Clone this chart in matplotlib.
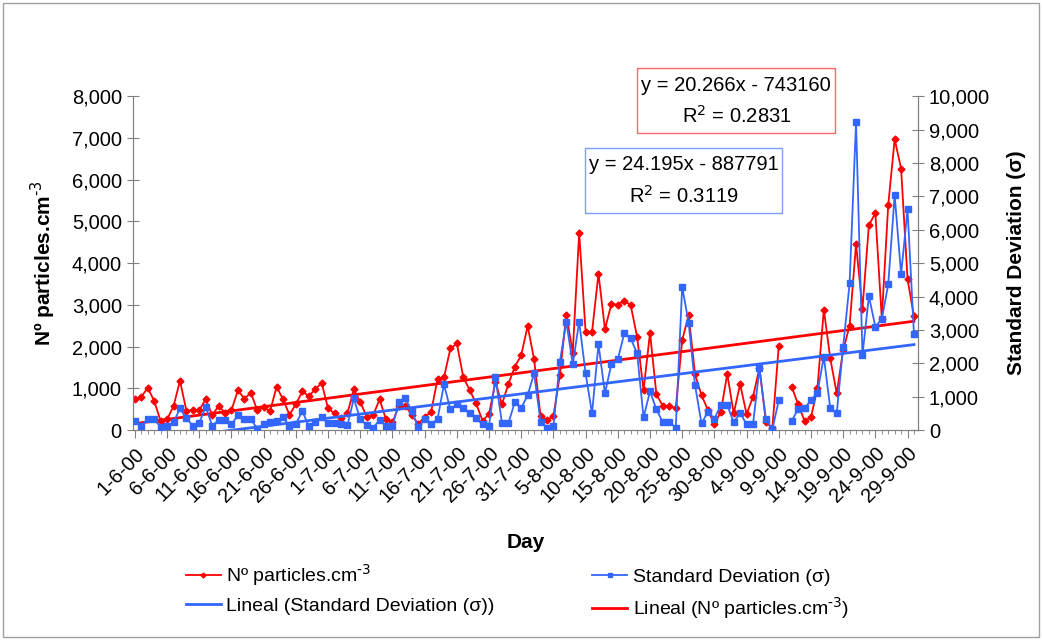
import numpy as np
import matplotlib
matplotlib.use("Agg")
import matplotlib.pyplot as plt
from matplotlib.ticker import FuncFormatter, MultipleLocator, FixedLocator
from matplotlib.patches import Rectangle

plt.rcParams['font.family'] = ['Liberation Sans', 'DejaVu Sans']

# daily values, 1-6-00 .. 30-9-00
particles = [734, 798, 1013, 694, 215, 255, 575, 1181, 463, 479,
             479, 742, 359, 575, 415, 479, 958, 750, 894, 479,
             543, 455, 1037, 742, 367, 622, 926, 814, 974, 1133,
             519, 399, 279, 399, 974, 678, 319, 359, 734, 255,
             184, 575, 575, 367, 144, 319, 431, 1229, 1261, 1955,
             2075, 1269, 958, 638, 223, 383, 1157, 614, 1101, 1516,
             1796, 2498, 1692, 335, 239, 335, 1317, 2769, 1859, 4724,
             2354, 2354, 3751, 2418, 3016, 3008, 3096, 2993, 2234, 958,
             2330, 854, 575, 575, 519, 2155, 2753, 1333, 838, 479,
             136, 439, 1349, 399, 1101, 383, 798, 1492, 200, 40,
             2019, np.nan, 1037, 622, 223, 303, 998, 2889, 1716, 878,
             1915, 2498, 4453, 2913, 4908, 5203, 2673, 5387, 6967, 6264,
             3615, 2729]
std_dev = [279, 130, 329, 329, 80, 130, 230, 649, 349, 130,
           220, 699, 130, 299, 299, 170, 449, 329, 329, 40,
           170, 230, 279, 379, 130, 180, 569, 120, 230, 379,
           200, 200, 170, 140, 948, 319, 150, 70, 299, 135,
           120, 838, 948, 579, 80, 319, 180, 329, 1367, 619,
           768, 669, 499, 349, 170, 130, 1577, 220, 200, 838,
           659, 1048, 1697, 250, 70, 130, 2046, 3244, 1976, 3244,
           1697, 499, 2575, 1098, 1976, 2116, 2894, 2745, 2295, 379,
           1160, 619, 230, 250, 70, 4291, 3214, 1337, 200, 549,
           339, 749, 749, 230, 519, 170, 180, 1846, 339, 20,
           888, np.nan, 279, 619, 649, 898, 1118, 2196, 649, 499,
           2495, 4391, 9212, 2246, 4012, 3094, 3323, 4361, 7036, 4671,
           6607, 2874]

date_labels = ['1-6-00', '6-6-00', '11-6-00', '16-6-00', '21-6-00', '26-6-00',
               '1-7-00', '6-7-00', '11-7-00', '16-7-00', '21-7-00', '26-7-00',
               '31-7-00', '5-8-00', '10-8-00', '15-8-00', '20-8-00', '25-8-00',
               '30-8-00', '4-9-00', '9-9-00', '14-9-00', '19-9-00', '24-9-00',
               '29-9-00']

# Excel trend lines (x = Excel date serial)
first_serial = 36678
fit_particles = (20.266, -743160)
fit_std = (24.195, -887791)

red = '#FF0000'
blue = '#3366FF'
grey = '#808080'
cm3 = 'Nº particles.cm$^{\\text{-3}}$'

days = np.arange(len(particles))
serial = first_serial + days

fig = plt.figure(figsize=(10.43, 6.41), dpi=100)
ax = fig.add_axes([0.1275, 0.329, 0.7525, 0.521])
ax2 = ax.twinx()

ax.plot(days, particles, color=red, lw=1.3, marker='D', ms=3.5,
        label=cm3, zorder=3)
ax2.plot(days, std_dev, color=blue, lw=1.3, marker='s', ms=4,
         label='Standard Deviation (σ)', zorder=3)
ax2.plot(days, fit_std[0] * serial + fit_std[1], color=blue, lw=2,
         label='Lineal (Standard Deviation (σ))')
ax.plot(days, fit_particles[0] * serial + fit_particles[1], color=red, lw=2,
        label='Lineal (' + cm3 + ')')

ax.set_xlim(-0.3, 121.6)
ax.set_ylim(0, 8000)
ax2.set_ylim(0, 10000)

comma = FuncFormatter(lambda v, p: f'{int(v):,}')
ax.yaxis.set_major_locator(MultipleLocator(1000))
ax2.yaxis.set_major_locator(MultipleLocator(1000))
ax.yaxis.set_major_formatter(comma)
ax2.yaxis.set_major_formatter(comma)

ax.xaxis.set_major_locator(FixedLocator(np.arange(0, 121, 5)))
ax.xaxis.set_minor_locator(MultipleLocator(1))
ax.set_xticklabels(date_labels, rotation=45, ha='right', rotation_mode='anchor')

for a in (ax, ax2):
    for s in a.spines.values():
        s.set_color(grey)
    a.spines['top'].set_visible(False)
    a.tick_params(labelsize=14.5, colors='black')
    a.tick_params(axis='both', which='both', color=grey)
ax.tick_params(axis='y', direction='inout', length=9)
ax2.tick_params(axis='y', direction='inout', length=9)
ax.tick_params(axis='x', which='major', direction='out', length=6, pad=4)
ax.tick_params(axis='x', which='minor', direction='out', length=3)

ax.set_ylabel(cm3, fontsize=15, fontweight='bold', labelpad=10)
ax2.set_ylabel('Standard Deviation (σ)', fontsize=15, fontweight='bold', labelpad=12)
ax.set_xlabel('Day', fontsize=15, fontweight='bold', labelpad=19)

h1, l1 = ax.get_legend_handles_labels()
h2, l2 = ax2.get_legend_handles_labels()
handles = [h1[0], h2[1], h2[0], h1[1]]
labels = [l1[0], l2[1], l2[0], l1[1]]
fig.legend(handles, labels, ncol=2, loc='center', bbox_to_anchor=(0.496, 0.077),
           frameon=False, fontsize=14, handlelength=1.8, handletextpad=0.3,
           columnspacing=5.0, labelspacing=0.45, markerscale=0.7)

# equation boxes
fig.patches.append(Rectangle((0.611, 0.7925), 0.190, 0.1015, transform=fig.transFigure,
                             fill=False, ec='#FF6666', lw=1))
fig.text(0.706, 0.866, 'y = 20.266x - 743160', ha='center', va='center', fontsize=14.5)
fig.text(0.706, 0.819, 'R$^2$ = 0.2831', ha='center', va='center', fontsize=14.5)
fig.patches.append(Rectangle((0.561, 0.668), 0.189, 0.101, transform=fig.transFigure,
                             fill=False, ec='#7F9FFF', lw=1))
fig.text(0.6555, 0.743, 'y = 24.195x - 887791', ha='center', va='center', fontsize=14.5)
fig.text(0.6555, 0.695, 'R$^2$ = 0.3119', ha='center', va='center', fontsize=14.5)

# chart area border
fig.patches.append(Rectangle((0.003, 0.006), 0.993, 0.99, transform=fig.transFigure,
                             fill=False, ec='#A0A0A0', lw=1))

fig.savefig('out.png', dpi=100)
